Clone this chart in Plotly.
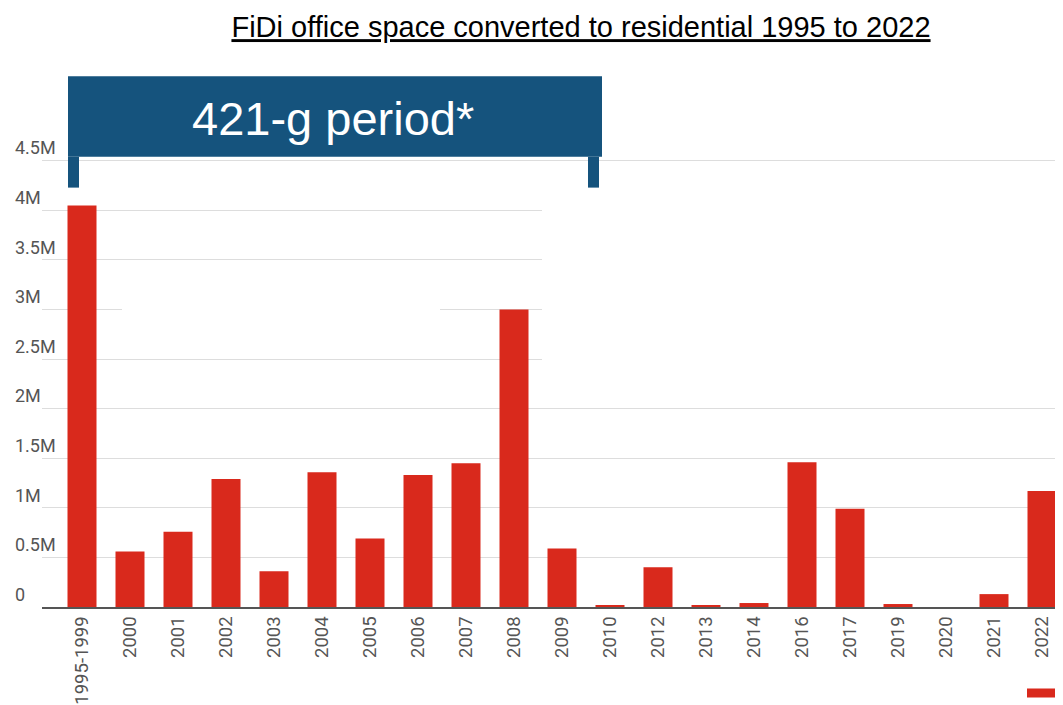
import plotly.graph_objects as go

categories = ["1995-1999", "2000", "2001", "2002", "2003", "2004", "2005", "2006",
              "2007", "2008", "2009", "2010", "2012", "2013", "2014", "2016",
              "2017", "2019", "2020", "2021", "2022"]
sqft = [4050000, 560000, 760000, 1290000, 360000, 1360000, 690000, 1330000,
        1450000, 3000000, 590000, 20000, 400000, 20000, 40000, 1460000,
        990000, 30000, 0, 130000, 1170000]
tick_vals = [0, 500000, 1000000, 1500000, 2000000, 2500000, 3000000, 3500000, 4000000, 4500000]
tick_text = ["0", "0.5M", "1M", "1.5M", "2M", "2.5M", "3M", "3.5M", "4M", "4.5M"]

OFF = 8                     # default page body margin
PAGE_W, PAGE_H = 1063, 705
W, H = PAGE_W - OFF, PAGE_H - OFF

# layout in page pixels
L_PAGE = 11                 # left edge of label axis
PX0 = 42                    # left edge of the x-axis domain
TOP = 125                   # top of plot area
ZERO = 610                  # zero line
C0, STEP = 82, 48           # first bar centre and spacing
SCALE = (610 - 161) / 4500000.0   # px per unit

L = L_PAGE - OFF
T = TOP - OFF
B = PAGE_H - ZERO
R = 0
plot_w = W - L - R
plot_h = H - T - B
y_top = (ZERO - TOP) / SCALE


def cx(px):
    return (px - C0) / STEP


def py(p):
    return (ZERO - p) / plot_h


def pxp(p):
    return (p - L_PAGE) / plot_w


RED = "#D9291C"
BLUE = "#15537D"
GREY = "#555555"
FONT = "Roboto, Arial, sans-serif"

fig = go.Figure()
fig.add_trace(go.Bar(x=categories, y=sqft,
                     marker=dict(color=RED, line=dict(width=0)),
                     showlegend=False, hoverinfo="x+y"))
fig.add_trace(go.Scatter(x=categories, y=sqft, yaxis="y2", mode="markers",
                         marker=dict(opacity=0), showlegend=False, hoverinfo="skip"))

fig.update_layout(
    width=W, height=H,
    margin=dict(l=L, r=R, t=T, b=B, pad=0),
    plot_bgcolor="white", paper_bgcolor="white",
    bargap=0.396,
    title=dict(text="<u>FiDi office space converted to residential 1995 to 2022</u>",
               font=dict(family="Liberation Sans, Arial, sans-serif", size=29, color="black"),
               x=(581 - OFF) / W, xref="container", xanchor="center",
               y=1 - (27 - OFF) / H, yref="container", yanchor="middle"),
    xaxis=dict(type="category", domain=[(PX0 - L_PAGE) / plot_w, 1],
               range=[cx(PX0), cx(PX0) + (PAGE_W - PX0) / STEP],
               tickangle=-90, ticks="", showgrid=False,
               showline=True, linecolor="#555555", linewidth=2,
               tickfont=dict(family=FONT, size=18.5, color=GREY)),
    yaxis=dict(range=[0, y_top], tickvals=tick_vals, ticktext=tick_text,
               showticklabels=False, showgrid=True, gridcolor="#dddddd", gridwidth=1,
               zeroline=False, ticks=""),
    yaxis2=dict(range=[0, y_top], tickvals=tick_vals, ticktext=tick_text,
                overlaying="y", anchor="free", position=0, side="left",
                ticklabelposition="inside top", showgrid=False, zeroline=False,
                showline=False, ticks="",
                tickfont=dict(family=FONT, size=18, color=GREY)),
)

shapes = []
# white covers hiding parts of the grid
shapes.append(dict(type="rect", xref="x", yref="y", x0=cx(122), x1=cx(440), y0=2800000, y1=3200000,
                   fillcolor="white", line=dict(width=0), layer="between"))
shapes.append(dict(type="rect", xref="x", yref="y", x0=cx(542), x1=cx(1100), y0=2300000, y1=4250000,
                   fillcolor="white", line=dict(width=0), layer="between"))
# banner
shapes.append(dict(type="rect", xref="x", yref="paper", x0=cx(68), x1=cx(602), y0=py(157), y1=py(76),
                   fillcolor=BLUE, line=dict(width=0), layer="above"))
shapes.append(dict(type="rect", xref="x", yref="paper", x0=cx(68), x1=cx(79), y0=py(188), y1=py(157),
                   fillcolor=BLUE, line=dict(width=0), layer="above"))
shapes.append(dict(type="rect", xref="x", yref="paper", x0=cx(588), x1=cx(599), y0=py(188), y1=py(157),
                   fillcolor=BLUE, line=dict(width=0), layer="above"))
# cut-off legend swatch at bottom right
shapes.append(dict(type="rect", xref="paper", yref="paper", x0=pxp(1027), x1=pxp(1070),
                   y0=py(701), y1=py(692), fillcolor=RED, line=dict(width=0), layer="above"))
fig.update_layout(shapes=shapes)

fig.add_annotation(text="421-g period*", x=cx(333), xref="x", y=py(118), yref="paper",
                   showarrow=False, xanchor="center", yanchor="middle",
                   font=dict(family="Liberation Sans, Arial, sans-serif", size=47, color="white"))

fig.write_html("out.html")
